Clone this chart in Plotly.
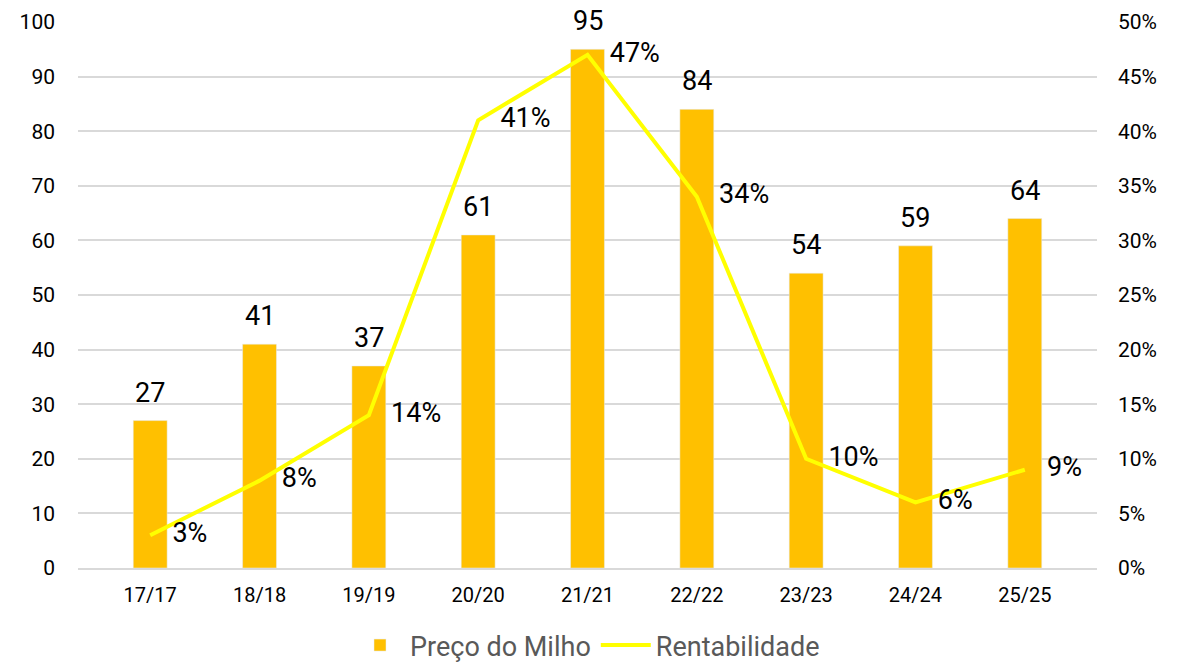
import plotly.graph_objects as go

categories = ["17/17", "18/18", "19/19", "20/20", "21/21", "22/22", "23/23", "24/24", "25/25"]
preco_milho = [27, 41, 37, 61, 95, 84, 54, 59, 64]
rentabilidade = [0.03, 0.08, 0.14, 0.41, 0.47, 0.34, 0.10, 0.06, 0.09]
left_ticks = list(range(0, 101, 10))
right_ticks = [i / 100 for i in range(0, 51, 5)]

FONT = "Roboto"

fig = go.Figure()
fig.add_trace(go.Bar(
    x=categories, y=preco_milho, name="Preço do Milho",
    marker_color="#FFC000", yaxis="y",
))
fig.add_trace(go.Scatter(
    x=categories, y=rentabilidade, name="Rentabilidade",
    mode="lines", line=dict(color="#FFFF00", width=4), yaxis="y2",
))
fig.add_trace(go.Scatter(
    x=categories, y=rentabilidade, mode="markers+text",
    marker=dict(size=34, color="rgba(0,0,0,0)"),
    text=[f"{round(v*100)}%" for v in rentabilidade],
    textposition="middle right",
    textfont=dict(size=27, color="#000000", family=FONT),
    showlegend=False, hoverinfo="skip", yaxis="y2",
))

for c, v in zip(categories, preco_milho):
    fig.add_annotation(x=c, y=v, xref="x", yref="y", text=str(v),
                       showarrow=False, yanchor="bottom", yshift=10,
                       font=dict(size=27, color="#000000", family=FONT))

fig.update_layout(
    width=1183, height=662,
    margin=dict(l=70, r=94, t=14, b=102, autoexpand=False),
    plot_bgcolor="white", paper_bgcolor="white",
    font=dict(family=FONT, color="#000000"),
    bargap=0.69,
    xaxis=dict(showgrid=False, showline=True, linecolor="#D9D9D9", linewidth=1.5,
               tickfont=dict(size=20, color="#000000"), ticks="", automargin=False,
               ticklabelstandoff=8),
    yaxis=dict(range=[0, 100], tickvals=left_ticks, showgrid=True, gridcolor="#D9D9D9",
               gridwidth=1.5, zeroline=False, tickfont=dict(size=21, color="#000000"),
               ticklabelstandoff=22, automargin=False),
    yaxis2=dict(range=[0, 0.5], tickvals=right_ticks, tickformat=".0%", overlaying="y",
                side="right", showgrid=False, zeroline=False,
                tickfont=dict(size=21, color="#000000"), ticklabelstandoff=20,
                automargin=False),
    legend=dict(orientation="h", x=0.5, xanchor="center", y=-0.005, yanchor="bottom",
                yref="container", font=dict(size=27, color="#595959"), itemwidth=50),
)

fig.write_html("out.html")
